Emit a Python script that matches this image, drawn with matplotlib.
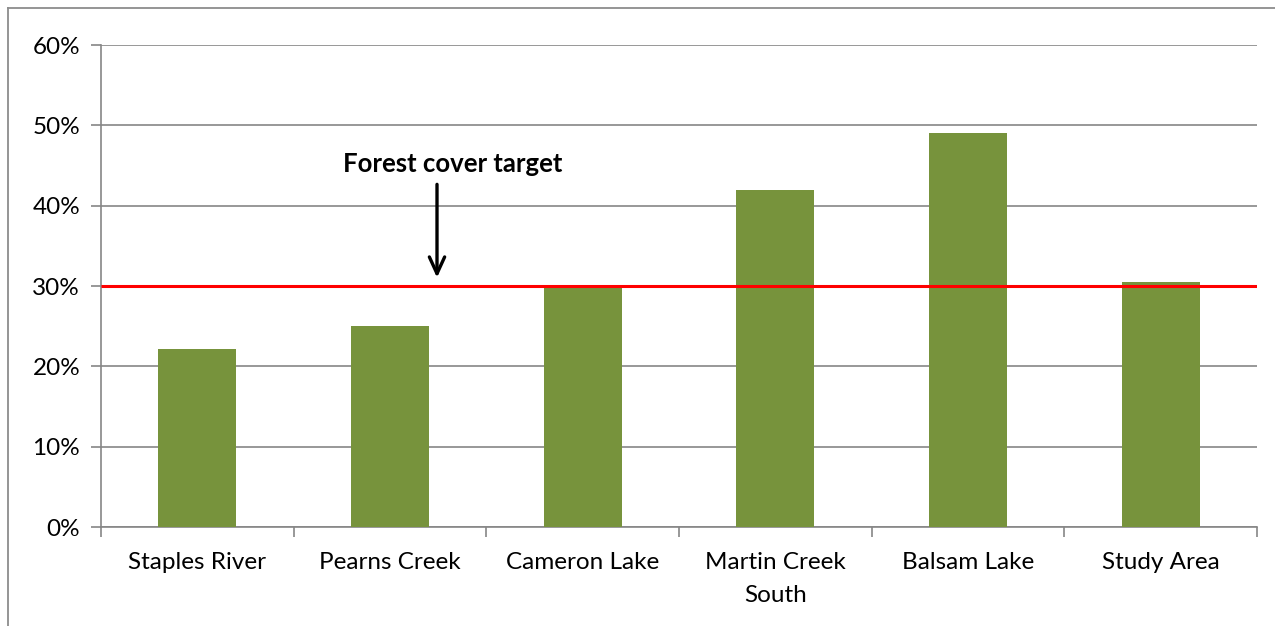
import matplotlib
matplotlib.use("Agg")
import matplotlib.pyplot as plt
from matplotlib.lines import Line2D
from matplotlib.ticker import PercentFormatter
import numpy as np

categories = ["Staples River", "Pearns Creek", "Cameron Lake", "Martin Creek\nSouth", "Balsam Lake", "Study Area"]
forest_cover = [22.2, 25.0, 30.0, 42.0, 49.0, 30.5]
target = 30.0
yticks = [0, 10, 20, 30, 40, 50, 60]

plt.rcParams['font.family'] = ['Lato', 'DejaVu Sans']

fig = plt.figure(figsize=(12.75, 6.26), dpi=100)
ax = fig.add_axes([0.0792, 0.1581, 0.9067, 0.7700])

x = np.arange(len(categories))
grid_c = "#868686"
ax.bar(x, forest_cover, width=0.405, color="#77933C", zorder=3)
ax.set_xlim(-0.5, len(categories) - 0.5)
ax.set_ylim(0, 60)
ax.set_yticks(yticks)
ax.yaxis.set_major_formatter(PercentFormatter(decimals=0))
ax.yaxis.grid(True, color=grid_c, linewidth=1.2, zorder=0)
ax.set_axisbelow(True)

ax.plot([-0.5, len(categories) - 0.5], [target, target], color="#FF0000", linewidth=2.2, zorder=4, solid_capstyle='butt')

for s in ["top", "right"]:
    ax.spines[s].set_visible(False)
ax.spines["left"].set_color(grid_c)
ax.spines["bottom"].set_color(grid_c)
ax.spines["left"].set_linewidth(1.2)
ax.spines["bottom"].set_linewidth(1.2)

ax.set_xticks(x)
ax.set_xticklabels(categories, fontsize=17.5, linespacing=1.7)
ax.tick_params(axis='x', length=0, pad=18)
ax.set_xticks(np.arange(len(categories) + 1) - 0.5, minor=True)
ax.tick_params(axis='x', which='minor', length=7, color=grid_c, width=1.2, direction='out')
ax.tick_params(axis='y', length=7, color=grid_c, width=1.2, labelsize=17.5, pad=8)

ax.annotate("", xy=(1.244, target + 0.7), xytext=(1.244, 43.0),
            arrowprops=dict(arrowstyle="->,head_length=1.2,head_width=0.55", color="black", lw=2.4), zorder=5)
ax.text(1.327, 45.2, "Forest cover target", fontsize=18.5, fontweight="bold", ha="center", va="center")

fig.add_artist(Line2D([8/1275, 8/1275], [0, 1 - 8/626], color="#8c8c8c", linewidth=1.3))
fig.add_artist(Line2D([8/1275, 1], [1 - 8/626, 1 - 8/626], color="#8c8c8c", linewidth=1.3))

fig.savefig("out.png", dpi=100, facecolor="white")
